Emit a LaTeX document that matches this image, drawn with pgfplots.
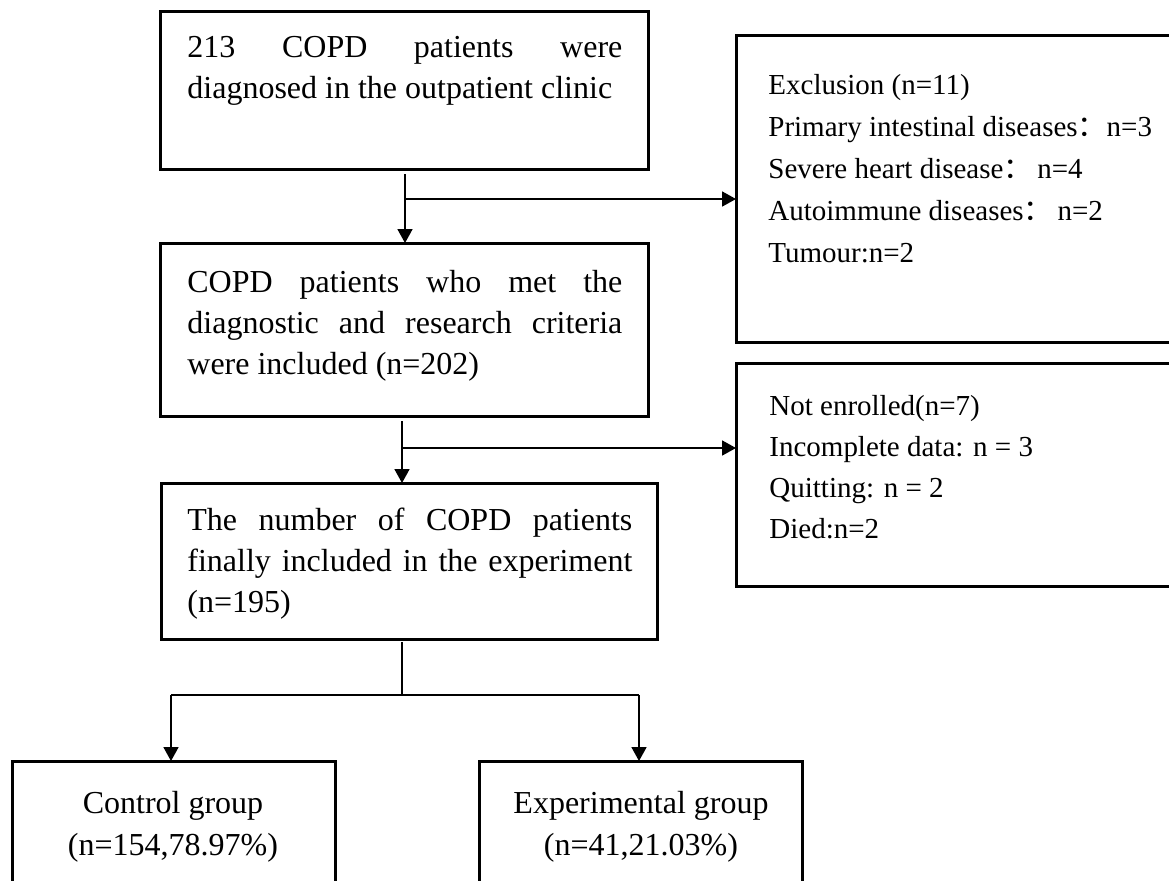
\documentclass[border=0pt]{standalone}
\usepackage{pgfplots}
\pgfplotsset{compat=1.18}
\usepackage{fontspec}
\setmainfont{Liberation Serif}
\newfontfamily\cjk{Noto Sans CJK SC}
\usetikzlibrary{arrows.meta}
\newcommand{\fwc}{{\cjk ：}}
\tikzset{
  box/.style={black,line width=1.5pt,line join=miter},
  conn/.style={black,line width=0.9pt},
  arr/.style={black,line width=0.9pt,-{Triangle[width=7.5pt,length=7pt]}},
  lt/.style={anchor=base west,inner sep=0pt,font=\fontsize{16}{20}\selectfont},
  rt/.style={anchor=base west,inner sep=0pt,font=\fontsize{14.5}{18}\selectfont},
  ct/.style={anchor=base,inner sep=0pt,font=\fontsize{16}{20}\selectfont}}
\begin{document}
\begin{tikzpicture}
\begin{axis}[x=0.5pt,y=0.5pt,y dir=reverse,xmin=0,xmax=1169,ymin=0,ymax=880,
  hide axis,clip=true]
% boxes
\addplot[box] coordinates {(160,11) (648,11) (648,169) (160,169) (160,11) (648,11)};
\addplot[box] coordinates {(160,243) (648,243) (648,416) (160,416) (160,243) (648,243)};
\addplot[box] coordinates {(161,483) (657,483) (657,639) (161,639) (161,483) (657,483)};
\addplot[box] coordinates {(1190,35) (736,35) (736,342) (1190,342)};
\addplot[box] coordinates {(1190,363) (736,363) (736,586) (1190,586)};
\addplot[box] coordinates {(12,900) (12,761) (335,761) (335,900)};
\addplot[box] coordinates {(479,900) (479,761) (802,761) (802,900)};
% connectors
\addplot[arr] coordinates {(405,174) (405,243)};
\addplot[arr] coordinates {(405,199) (736,199)};
\addplot[arr] coordinates {(402,421) (402,483)};
\addplot[arr] coordinates {(402,448) (736,448)};
\addplot[conn] coordinates {(402,642) (402,695)};
\addplot[conn] coordinates {(171,695) (639,695)};
\addplot[arr] coordinates {(171,695) (171,761)};
\addplot[arr] coordinates {(639,695) (639,761)};
% texts
\node[lt] at (axis cs:187,57) {\makebox[217.5pt][s]{213 COPD patients were}};
\node[lt] at (axis cs:187,98) {diagnosed in the outpatient clinic};
\node[lt] at (axis cs:187,292) {\makebox[217.5pt][s]{COPD patients who met the}};
\node[lt] at (axis cs:187,333) {\makebox[217.5pt][s]{diagnostic and research criteria}};
\node[lt] at (axis cs:187,374) {were included (n=202)};
\node[lt] at (axis cs:187,530) {\makebox[222.5pt][s]{The number of COPD patients}};
\node[lt] at (axis cs:187,571) {\makebox[222.5pt][s]{finally included in the experiment}};
\node[lt] at (axis cs:187,612) {(n=195)};
\node[rt] at (axis cs:768,94) {Exclusion (n=11)};
\node[rt] at (axis cs:768,136) {Primary intestinal diseases\fwc n=3};
\node[rt] at (axis cs:768,178) {Severe heart disease\fwc\,n=4};
\node[rt] at (axis cs:768,220) {Autoimmune diseases\fwc\,n=2};
\node[rt] at (axis cs:768,262) {Tumour:n=2};
\node[rt] at (axis cs:769,415) {Not enrolled(n=7)};
\node[rt] at (axis cs:769,456) {Incomplete data: n = 3};
\node[rt] at (axis cs:769,497) {Quitting: n = 2};
\node[rt] at (axis cs:769,538) {Died:n=2};
\node[ct] at (axis cs:173,813) {Control group};
\node[ct] at (axis cs:173,855) {(n=154,78.97\%)};
\node[ct] at (axis cs:641,813) {Experimental group};
\node[ct] at (axis cs:641,855) {(n=41,21.03\%)};
\end{axis}
\pgfresetboundingbox
\path (current axis.south west) rectangle (current axis.north east);
\end{tikzpicture}
\end{document}
